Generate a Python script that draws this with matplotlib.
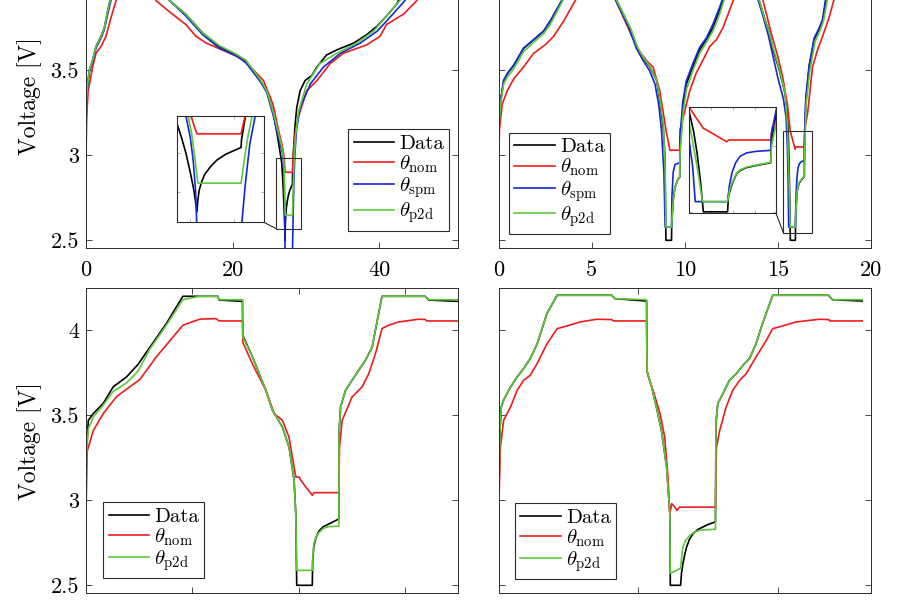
import matplotlib
matplotlib.use('Agg')
import matplotlib.pyplot as plt
from matplotlib.patches import Rectangle, ConnectionPatch

plt.rcParams.update({
    'font.family': 'serif',
    'font.serif': ['cmr10', 'DejaVu Serif'],
    'mathtext.fontset': 'cm',
    'axes.formatter.use_mathtext': True,
    'axes.unicode_minus': False,
})

# ---------------- data (time, voltage) ----------------
LABELS = ['Data', r'$\theta_{\rm nom}$', r'$\theta_{\rm spm}$', r'$\theta_{\rm p2d}$']
COLORS = ['#000000', '#ee1c1c', '#1428d8', '#5cc83a']
YTICKS = [2.5, 3, 3.5, 4]
YTICKLABELS = ['2.5', '3', '3.5', '4']

# top-left panel
TL_DATA = [(0, 2.87), (0.05, 3.3), (0.23, 3.42), (0.45, 3.50), (0.91, 3.56), (1.36, 3.64), (2.05, 3.70),
           (2.5, 3.75), (2.96, 3.85), (3.27, 3.91), (3.9, 4.05), (4.5, 4.2), (8.5, 4.2), (9.3, 4.08),
           (10.2, 4.0), (11.4, 3.91), (13.6, 3.83), (15.9, 3.72), (18.2, 3.64), (20.5, 3.59), (21.8, 3.55),
           (23.7, 3.44), (24.65, 3.38), (25.55, 3.25), (26.2, 3.09), (26.69, 2.957), (26.8, 2.88),
           (26.9, 2.80), (27.0, 2.70), (27.08, 2.61), (27.15, 2.50), (27.17, 2.56), (27.2, 2.61),
           (27.25, 2.65), (27.32, 2.69), (27.45, 2.73), (27.6, 2.765), (27.8, 2.795), (28.0, 2.815),
           (28.15, 2.83), (28.16, 2.87), (28.25, 2.99), (28.5, 3.17), (28.74, 3.28), (29.2, 3.38),
           (29.88, 3.44), (30.8, 3.47), (31.5, 3.52), (32.8, 3.59), (34.2, 3.62), (36.5, 3.66), (38.3, 3.71),
           (39.7, 3.76), (41.0, 3.82), (42.4, 3.89), (43.5, 4.0), (44.5, 4.2), (50.8, 4.18)]
TL_NOM = [(0, 2.87), (0.05, 3.2), (0.3, 3.38), (0.91, 3.52), (1.36, 3.60), (2.05, 3.64), (2.73, 3.70),
          (3.41, 3.81), (4.1, 3.91), (5.0, 4.0), (6.0, 4.06), (8.0, 4.06), (8.6, 4.0), (9.55, 3.91),
          (11.5, 3.84), (13.6, 3.77), (15.0, 3.70), (16.4, 3.66), (19.1, 3.61), (20.9, 3.575), (21.9, 3.545),
          (24.2, 3.44), (25.5, 3.30), (26.3, 3.14), (26.8, 3.05), (27.02, 2.99), (27.1, 2.93), (27.15, 2.90),
          (28.15, 2.90), (28.24, 2.99), (28.5, 3.12), (28.96, 3.225), (30.1, 3.38), (31.5, 3.44),
          (33.3, 3.54), (35.1, 3.60), (38.3, 3.65), (40.1, 3.70), (41.0, 3.77), (43.3, 3.83), (45.1, 3.91),
          (46.5, 4.0), (47.5, 4.06), (50.8, 4.06)]
TL_SPM = [(0, 2.87), (0.05, 3.3), (0.23, 3.41), (0.45, 3.49), (0.91, 3.55), (1.36, 3.63), (2.05, 3.69),
          (2.5, 3.74), (2.96, 3.83), (3.4, 3.91), (4.0, 4.05), (4.6, 4.2), (8.5, 4.2), (9.3, 4.08),
          (10.2, 4.0), (11.4, 3.91), (13.6, 3.82), (15.9, 3.71), (18.2, 3.63), (20.5, 3.585), (21.8, 3.545),
          (23.7, 3.44), (24.65, 3.37), (25.5, 3.24), (26.3, 3.10), (26.7, 3.03), (26.9, 2.99), (27.0, 2.88),
          (27.07, 2.75), (27.12, 2.6), (27.15, 2.40), (28.15, 2.40), (28.25, 2.65), (28.35, 2.85),
          (28.47, 2.99), (28.7, 3.15), (29.2, 3.28), (30.6, 3.42), (32.4, 3.52), (34.7, 3.60), (37.4, 3.66),
          (39.7, 3.73), (41.0, 3.79), (43.5, 3.91), (45.0, 4.05), (46.0, 4.2), (50.8, 4.2)]
TL_P2D = [(0, 2.87), (0.05, 3.32), (0.23, 3.42), (0.45, 3.50), (0.91, 3.56), (1.36, 3.64), (2.05, 3.70),
          (2.5, 3.75), (2.96, 3.85), (3.3, 3.91), (3.9, 4.05), (4.5, 4.2), (8.5, 4.2), (9.3, 4.08),
          (10.2, 4.0), (11.4, 3.91), (13.6, 3.83), (15.9, 3.72), (18.2, 3.645), (20.5, 3.595), (21.8, 3.56),
          (23.7, 3.45), (24.65, 3.38), (25.5, 3.26), (26.3, 3.12), (26.75, 3.04), (26.95, 2.99), (27.03, 2.9),
          (27.1, 2.78), (27.17, 2.647), (28.15, 2.647), (28.22, 2.76), (28.3, 2.88), (28.4, 2.99),
          (28.6, 3.13), (29.0, 3.26), (30.1, 3.42), (31.9, 3.54), (34.2, 3.60), (36.9, 3.66), (39.2, 3.73),
          (41.0, 3.82), (42.8, 3.91), (44.2, 4.05), (45.0, 4.2), (50.8, 4.18)]

# top-right panel
TR_DATA = [(0, 2.87), (0.03, 3.2), (0.11, 3.32), (0.28, 3.44), (0.47, 3.48), (0.82, 3.53), (1.35, 3.63),
           (1.89, 3.68), (2.42, 3.73), (2.78, 3.79), (3.4, 3.91), (3.9, 4.05), (4.4, 4.2), (5.6, 4.2),
           (5.9, 4.05), (6.35, 3.91), (7.06, 3.75), (7.42, 3.64), (7.77, 3.57), (8.13, 3.52), (8.49, 3.44),
           (8.66, 3.32), (8.84, 3.17), (8.93, 3.0), (8.99, 2.5), (9.29, 2.5), (9.30, 2.6), (9.38, 2.735),
           (9.47, 2.81), (9.64, 2.86), (9.73, 2.87), (9.74, 3.03), (9.91, 3.30), (10.09, 3.42), (10.44, 3.52),
           (10.8, 3.62), (11.16, 3.68), (11.51, 3.75), (11.87, 3.85), (12.05, 3.91), (12.5, 4.05),
           (12.9, 4.2), (13.3, 4.2), (13.6, 4.05), (14.0, 3.91), (14.3, 3.8), (14.55, 3.72), (14.72, 3.63),
           (15.08, 3.50), (15.35, 3.38), (15.51, 3.27), (15.56, 3.12), (15.6, 2.95), (15.64, 2.72),
           (15.67, 2.5), (15.94, 2.5), (15.95, 2.62), (15.98, 2.69), (16.0, 2.73), (16.04, 2.79),
           (16.08, 2.815), (16.15, 2.838), (16.3, 2.86), (16.42, 2.875), (16.43, 3.05), (16.5, 3.32),
           (16.68, 3.52), (16.95, 3.68), (17.22, 3.74), (17.4, 3.79), (17.58, 3.91), (18.0, 4.05),
           (18.4, 4.2), (20, 4.2)]
TR_NOM = [(0, 2.87), (0.05, 3.15), (0.2, 3.3), (0.47, 3.38), (0.82, 3.45), (1.35, 3.52), (1.89, 3.60),
          (2.51, 3.65), (2.96, 3.70), (3.5, 3.79), (4.12, 3.91), (4.6, 4.0), (5.2, 4.06), (5.8, 4.06),
          (6.0, 3.98), (6.3, 3.91), (7.0, 3.74), (7.5, 3.62), (8.0, 3.55), (8.3, 3.52), (8.66, 3.38),
          (9.02, 3.13), (9.1, 3.09), (9.2, 3.03), (9.73, 3.03), (9.75, 3.15), (10.0, 3.26), (10.27, 3.38),
          (10.6, 3.48), (10.98, 3.56), (11.34, 3.64), (11.7, 3.68), (12.05, 3.75), (12.6, 3.91),
          (13.0, 4.0), (13.4, 4.06), (13.7, 4.06), (13.9, 4.0), (14.2, 3.91), (14.64, 3.72), (15.0, 3.58),
          (15.26, 3.46), (15.51, 3.30), (15.67, 3.138), (15.7, 3.128), (15.93, 3.036), (15.95, 3.049),
          (16.42, 3.049), (16.44, 3.15), (16.6, 3.25), (16.86, 3.52), (17.13, 3.62), (17.4, 3.70),
          (17.75, 3.81), (18.0, 3.91), (18.5, 4.0), (19.0, 4.06), (20, 4.06)]
TR_SPM = [(0, 2.87), (0.03, 3.2), (0.11, 3.32), (0.28, 3.44), (0.47, 3.48), (0.82, 3.53), (1.35, 3.63),
          (1.89, 3.68), (2.42, 3.73), (2.78, 3.79), (3.4, 3.91), (3.9, 4.05), (4.4, 4.2), (5.6, 4.2),
          (5.85, 4.05), (6.3, 3.91), (7.0, 3.75), (7.4, 3.63), (7.75, 3.56), (8.1, 3.5), (8.4, 3.42),
          (8.6, 3.3), (8.75, 3.15), (8.88, 2.9), (8.95, 2.578), (9.29, 2.578), (9.31, 2.75), (9.38, 2.9),
          (9.47, 2.945), (9.73, 2.957), (9.74, 3.1), (9.9, 3.32), (10.09, 3.44), (10.44, 3.54),
          (10.8, 3.635), (11.16, 3.69), (11.51, 3.77), (11.87, 3.87), (12.0, 3.91), (12.45, 4.05),
          (12.85, 4.2), (13.3, 4.2), (13.55, 4.05), (13.95, 3.91), (14.25, 3.8), (14.5, 3.7),
          (14.99, 3.46), (15.3, 3.33), (15.44, 3.225), (15.51, 3.05), (15.55, 2.85), (15.58, 2.578),
          (15.94, 2.578), (15.96, 2.70), (15.99, 2.80), (16.03, 2.875), (16.08, 2.925), (16.15, 2.95),
          (16.25, 2.962), (16.42, 2.97), (16.43, 3.1), (16.5, 3.34), (16.68, 3.53), (16.95, 3.69),
          (17.22, 3.75), (17.4, 3.80), (17.55, 3.91), (17.95, 4.05), (18.35, 4.2), (20, 4.2)]
TR_P2D = [(0, 2.87), (0.03, 3.18), (0.11, 3.30), (0.28, 3.42), (0.47, 3.46), (0.82, 3.51), (1.35, 3.61),
          (1.89, 3.665), (2.42, 3.715), (2.78, 3.77), (3.45, 3.91), (3.95, 4.05), (4.45, 4.2), (5.6, 4.2),
          (5.9, 4.05), (6.35, 3.91), (7.08, 3.75), (7.45, 3.64), (7.8, 3.57), (8.15, 3.52), (8.5, 3.44),
          (8.68, 3.32), (8.86, 3.17), (8.95, 2.9), (8.99, 2.578), (9.29, 2.578), (9.38, 2.735),
          (9.47, 2.81), (9.64, 2.86), (9.73, 2.87), (9.74, 3.0), (9.92, 3.26), (10.1, 3.39), (10.44, 3.50),
          (10.8, 3.60), (11.16, 3.665), (11.51, 3.73), (11.87, 3.83), (12.1, 3.91), (12.55, 4.05),
          (12.95, 4.2), (13.3, 4.2), (13.6, 4.05), (14.0, 3.91), (14.3, 3.8), (14.55, 3.72), (14.75, 3.63),
          (15.1, 3.50), (15.38, 3.37), (15.51, 3.19), (15.56, 3.0), (15.6, 2.85), (15.66, 2.578),
          (15.94, 2.578), (15.96, 2.66), (15.98, 2.70), (16.0, 2.735), (16.04, 2.795), (16.08, 2.82),
          (16.15, 2.842), (16.3, 2.863), (16.42, 2.878), (16.43, 3.0), (16.52, 3.30), (16.72, 3.50),
          (17.0, 3.67), (17.25, 3.73), (17.45, 3.79), (17.65, 3.91), (18.05, 4.05), (18.45, 4.2), (20, 4.2)]

# bottom-left panel
BL_DATA = [(0, 2.88), (0.05, 3.3), (0.22, 3.47), (0.68, 3.51), (1.62, 3.57), (2.55, 3.667), (3.8, 3.725),
           (4.9, 3.80), (6.0, 3.90), (7.55, 4.04), (9.1, 4.2), (12.4, 4.2), (12.5, 4.178), (14.7, 4.17),
           (14.73, 3.97), (15.65, 3.843), (16.9, 3.647), (17.52, 3.53), (18.46, 3.43), (19.08, 3.313),
           (19.55, 3.118), (19.71, 2.92), (19.8, 2.5), (21.26, 2.5), (21.3, 2.64), (21.4, 2.725),
           (21.6, 2.78), (21.9, 2.82), (22.3, 2.845), (22.8, 2.86), (23.3, 2.876), (23.76, 2.89),
           (23.78, 3.4), (23.92, 3.55), (24.39, 3.647), (25.0, 3.706), (25.63, 3.765), (26.26, 3.824),
           (26.88, 3.90), (27.81, 4.2), (31.87, 4.2), (32.2, 4.178), (35, 4.17)]
BL_NOM = [(0, 2.88), (0.05, 3.15), (0.12, 3.29), (0.68, 3.41), (1.62, 3.51), (2.87, 3.61), (4.1, 3.667),
          (5.05, 3.71), (6.6, 3.843), (8.17, 3.96), (9.1, 4.03), (10.67, 4.065), (12.2, 4.069),
          (12.5, 4.055), (14.72, 4.055), (14.73, 3.93), (15.65, 3.80), (16.9, 3.647), (17.68, 3.51),
          (18.46, 3.47), (19.08, 3.37), (19.55, 3.196), (19.71, 3.137), (20.02, 3.137), (20.18, 3.118),
          (21.26, 3.03), (21.42, 3.045), (23.76, 3.045), (23.82, 3.313), (24.07, 3.47), (25.0, 3.608),
          (25.94, 3.667), (26.57, 3.745), (27.2, 3.863), (27.81, 4.01), (28.44, 4.03), (29.37, 4.049),
          (31.24, 4.065), (31.87, 4.064), (32.0, 4.055), (35, 4.055)]
BL_P2D = [(0, 2.88), (0.05, 3.28), (0.22, 3.42), (0.68, 3.49), (1.62, 3.56), (2.55, 3.64), (3.8, 3.69),
          (4.9, 3.76), (6.0, 3.89), (7.55, 4.03), (9.1, 4.18), (10.67, 4.2), (12.4, 4.2), (12.5, 4.18),
          (14.72, 4.18), (14.73, 3.96), (15.65, 3.843), (16.9, 3.647), (17.52, 3.53), (18.46, 3.43),
          (19.08, 3.313), (19.55, 3.118), (19.71, 2.92), (19.8, 2.588), (21.26, 2.588), (21.3, 2.66),
          (21.4, 2.74), (21.6, 2.785), (21.9, 2.81), (22.3, 2.835), (22.8, 2.845), (23.76, 2.848),
          (23.78, 3.4), (23.92, 3.55), (24.39, 3.647), (25.0, 3.706), (25.63, 3.765), (26.26, 3.824),
          (26.88, 3.90), (27.81, 4.2), (31.87, 4.2), (32.2, 4.18), (35, 4.18)]

# bottom-right panel
BR_DATA = [(0, 2.89), (0.03, 3.4), (0.06, 3.55), (0.11, 3.59), (0.26, 3.667), (0.4, 3.725), (0.54, 3.775),
           (0.68, 3.833), (0.83, 3.92), (1.04, 4.098), (1.26, 4.206), (2.43, 4.206), (2.5, 4.186),
           (3.18, 4.172), (3.19, 3.76), (3.29, 3.667), (3.39, 3.55), (3.5, 3.41), (3.61, 3.196),
           (3.68, 2.92), (3.69, 2.5), (3.91, 2.5), (3.93, 2.57), (3.96, 2.627), (4.0, 2.68), (4.04, 2.725),
           (4.1, 2.77), (4.18, 2.804), (4.28, 2.828), (4.39, 2.843), (4.52, 2.86), (4.66, 2.873),
           (4.67, 3.45), (4.71, 3.57), (4.82, 3.627), (4.96, 3.706), (5.11, 3.745), (5.25, 3.794),
           (5.39, 3.833), (5.53, 3.92), (5.67, 4.04), (5.89, 4.206), (7.09, 4.206), (7.17, 4.18),
           (7.81, 4.172)]
BR_NOM = [(0, 2.89), (0.04, 3.31), (0.11, 3.47), (0.26, 3.55), (0.4, 3.647), (0.54, 3.706), (0.68, 3.735),
          (0.83, 3.804), (1.04, 3.92), (1.26, 4.01), (1.4, 4.02), (1.75, 4.049), (2.11, 4.065),
          (2.43, 4.063), (2.47, 4.055), (3.18, 4.055), (3.19, 3.76), (3.22, 3.725), (3.32, 3.647),
          (3.47, 3.51), (3.57, 3.37), (3.64, 3.137), (3.68, 2.92), (3.72, 2.98), (3.79, 2.96),
          (3.83, 2.94), (3.89, 2.96), (4.66, 2.96), (4.68, 3.31), (4.75, 3.41), (4.89, 3.55),
          (5.03, 3.647), (5.18, 3.706), (5.32, 3.745), (5.53, 3.843), (5.75, 3.94), (5.89, 4.01),
          (6.03, 4.02), (6.39, 4.049), (6.89, 4.065), (7.09, 4.063), (7.12, 4.055), (7.81, 4.055)]
BR_P2D = [(0, 2.89), (0.03, 3.4), (0.06, 3.55), (0.11, 3.59), (0.26, 3.667), (0.4, 3.725), (0.54, 3.775),
          (0.68, 3.833), (0.83, 3.92), (1.04, 4.098), (1.26, 4.206), (2.43, 4.206), (2.5, 4.186),
          (3.18, 4.18), (3.19, 3.76), (3.29, 3.667), (3.39, 3.55), (3.5, 3.41), (3.61, 3.196),
          (3.68, 2.92), (3.69, 2.57), (3.91, 2.60), (3.94, 2.68), (3.96, 2.725), (4.02, 2.765),
          (4.11, 2.794), (4.2, 2.812), (4.32, 2.824), (4.66, 2.83), (4.67, 3.45), (4.71, 3.57),
          (4.82, 3.627), (4.96, 3.706), (5.11, 3.745), (5.25, 3.794), (5.39, 3.833), (5.53, 3.92),
          (5.67, 4.04), (5.89, 4.206), (7.09, 4.206), (7.17, 4.18), (7.81, 4.18)]

# zoomed regions (x0, x1, y0, y1) and inset view limits
TL_ROI = (25.91, 29.28, 2.569, 2.982)
TL_INSET_LIM = (26.69, 28.67, 2.446, 2.993)
TR_ROI = (15.30, 16.85, 2.543, 3.141)
TR_INSET_LIM = (15.51, 16.48, 2.489, 3.299)

# ---------------- figure ----------------
W, H = 900, 600
fig = plt.figure(figsize=(9, 6), dpi=100)


def fbox(x0, y0, x1, y1):
    """pixel box (top-left origin) -> figure fraction rect"""
    return [x0 / W, 1 - y1 / H, (x1 - x0) / W, (y1 - y0) / H]


SPINE = '#2b2b2b'
LW = 1.2


def style(ax, fs=16):
    for s in ax.spines.values():
        s.set_linewidth(0.7)
        s.set_color(SPINE)
    ax.tick_params(direction='in', top=True, right=True, length=4, width=0.6,
                   colors=SPINE, labelcolor='black', labelsize=fs)
    ax.tick_params(axis='x', pad=9)
    ax.tick_params(axis='y', pad=5)


def draw(ax, series, lw=LW):
    for pts, c, lab in series:
        xs, ys = zip(*pts)
        ax.plot(xs, ys, color=c, lw=lw, label=lab)


def legend(ax, x, y):
    lg = ax.legend(loc='upper left', bbox_to_anchor=(x / W, 1 - y / H), bbox_transform=fig.transFigure,
                   borderaxespad=0, fancybox=False, framealpha=1, edgecolor=SPINE, fontsize=15,
                   handlelength=1.95, handletextpad=0.25, labelspacing=0.02, borderpad=0.25)
    lg.get_frame().set_linewidth(0.8)
    return lg


def inset(ax, rect, series, lim, roi):
    ia = fig.add_axes(rect)
    draw(ia, series)
    ia.set_xlim(lim[0], lim[1])
    ia.set_ylim(lim[2], lim[3])
    ia.set_xticklabels([])
    ia.set_yticklabels([])
    for s in ia.spines.values():
        s.set_linewidth(0.8)
        s.set_color(SPINE)
    ia.tick_params(direction='in', top=True, right=True, length=2, width=0.5, colors='#999999')
    ia.set_zorder(5)
    ax.add_patch(Rectangle((roi[0], roi[2]), roi[1] - roi[0], roi[3] - roi[2], fill=False,
                           edgecolor=SPINE, lw=0.8, zorder=4))
    cp = ConnectionPatch(xyA=(1, 0), coordsA=ia.transAxes, xyB=(roi[0], roi[2]), coordsB=ax.transData,
                         color=SPINE, lw=0.8)
    fig.add_artist(cp)
    return ia


tl = fig.add_axes(fbox(86, -56.7, 458.5, 248.3))
tr = fig.add_axes(fbox(498.5, -56.7, 871, 248.3))
bl = fig.add_axes(fbox(86, 288.3, 458.5, 593.3))
br = fig.add_axes(fbox(498.5, 288.3, 871, 593.3))

s_tl = [(TL_DATA, COLORS[0], LABELS[0]), (TL_NOM, COLORS[1], LABELS[1]),
        (TL_SPM, COLORS[2], LABELS[2]), (TL_P2D, COLORS[3], LABELS[3])]
s_tr = [(TR_DATA, COLORS[0], LABELS[0]), (TR_NOM, COLORS[1], LABELS[1]),
        (TR_SPM, COLORS[2], LABELS[2]), (TR_P2D, COLORS[3], LABELS[3])]
s_bl = [(BL_DATA, COLORS[0], LABELS[0]), (BL_NOM, COLORS[1], LABELS[1]), (BL_P2D, COLORS[3], LABELS[3])]
s_br = [(BR_DATA, COLORS[0], LABELS[0]), (BR_NOM, COLORS[1], LABELS[1]), (BR_P2D, COLORS[3], LABELS[3])]

for ax, s in ((tl, s_tl), (tr, s_tr), (bl, s_bl), (br, s_br)):
    draw(ax, s)
    ax.set_ylim(2.453, 4.247)
    ax.set_yticks(YTICKS)
    style(ax)

tl.set_xlim(0, 50.8)
tl.set_xticks([0, 20, 40])
tl.set_xticklabels(['0', '20', '40'])
tr.set_xlim(0, 20)
tr.set_xticks([0, 5, 10, 15, 20])
tr.set_xticklabels(['0', '5', '10', '15', '20'])
bl.set_xlim(0, 35)
bl.set_xticks([10, 20, 30])
bl.set_xticklabels([])
br.set_xlim(0, 8)
br.set_xticks([3, 6])
br.set_xticklabels([])

# the "4" label of the top row lies above the visible part of the figure
tl.set_yticklabels(YTICKLABELS[:3] + [''])
bl.set_yticklabels(YTICKLABELS)
tr.set_yticklabels([])
br.set_yticklabels([])

legend(tl, 348.3, 129.3)
legend(tr, 509, 132.7)
legend(bl, 103.3, 502.3)
legend(br, 515, 503.3)

inset(tl, fbox(176.7, 115.7, 264, 222.3), s_tl, TL_INSET_LIM, TL_ROI)
inset(tr, fbox(689, 107.3, 776, 213.3), s_tr, TR_INSET_LIM, TR_ROI)

fig.text(30 / W, 1 - 95.8 / H, 'Voltage [V]', rotation=90, ha='center', va='center', fontsize=17)
fig.text(30 / W, 1 - 440.8 / H, 'Voltage [V]', rotation=90, ha='center', va='center', fontsize=17)

fig.savefig('out.png', dpi=100)
